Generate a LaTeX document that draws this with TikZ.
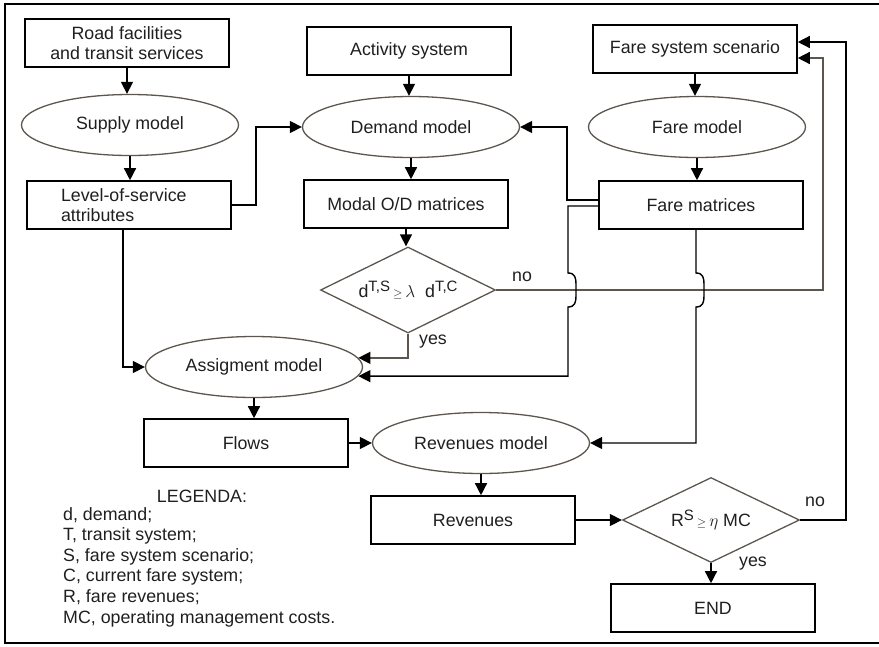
\documentclass[tikz,border=0pt]{standalone}
\usepackage{fontspec}
\setmainfont{Liberation Sans}
\usetikzlibrary{arrows.meta,shapes.geometric}

\definecolor{outlinegray}{RGB}{92,86,78}

\begin{document}
\begin{tikzpicture}[x=1pt,y=-1pt,
  every node/.style={font=\fontsize{17.8}{20.6}\selectfont,text=black!88},
  box/.style={draw=black,line width=1.6pt,minimum width=204pt,minimum height=48pt,inner sep=0pt,align=center},
  model/.style={ellipse,draw=outlinegray,line width=1.3pt,minimum width=217pt,minimum height=61pt,inner sep=0pt},
  test/.style={diamond,aspect=2,draw=outlinegray,line width=1.3pt,inner sep=0pt},
  conn/.style={line width=1.4pt,-{Triangle[length=12pt,width=12pt,color=black]}},
  conngray/.style={conn,draw=outlinegray}]
\useasboundingbox (0,0) rectangle (879,646);
\draw[line width=1.5pt] (5,4) rectangle (890,643);

% left column
\node[box] (road) at (127,43) {Road facilities\\and transit services};
\node[model] (supply) at (130,125) {Supply model};
\node[box,align=left,text width=136pt] (los) at (129,205) {Level-of-service\\attributes};

% middle column
\node[box] (activity) at (409,51) {Activity system};
\node[model] (demand) at (411,127) {Demand model};
\node[box] (modal) at (406,204) {Modal O/D matrices};
\node[test,minimum width=175pt,minimum height=86pt] (dtest) at (408,290)
  {d\raisebox{.38em}{\fontsize{15}{15}\selectfont T,S}\,$\scriptstyle\geq$\,$\lambda$\ \ d\raisebox{.38em}{\fontsize{15}{15}\selectfont T,C}};

% right column
\node[box] (fscen) at (695,49) {Fare system scenario};
\node[model] (fmodel) at (697,127) {Fare model};
\node[box] (fmat) at (701,205) {Fare matrices};

% lower part
\node[model] (assign) at (254,367) {Assigment model};
\node[box] (flows) at (246,443) {Flows};
\node[model] (revmodel) at (481,443) {Revenues model};
\node[box] (revenues) at (473,520) {Revenues};
\node[test,minimum width=177pt,minimum height=85pt] (rtest) at (711,520)
  {R\raisebox{.38em}{\fontsize{15}{15}\selectfont S}\,$\scriptstyle\geq$\,$\eta$ MC};
\node[box] (endbox) at (713,608) {END};

\node (dno) at (522,277) {no};
\node (dyes) at (433,342) {yes};
\node (rno) at (815,502) {no};
\node (ryes) at (753,564) {yes};

\node (legtitle) at (202,496) {LEGENDA:};
\node[anchor=north west,align=left,inner sep=0pt] (legtext) at (63,507)
  {d, demand;\\T, transit system;\\S, fare system scenario;\\C, current fare system;\\R, fare revenues;\\MC, operating management costs.};

% connectors
\draw[conn] (road.south) -- (road.south |- supply.north);
\draw[conn] (supply.south) -- (supply.south |- los.north);
\draw[conn] (los.east) -- (256,205) |- (demand.west);
\draw[conn] ([xshift=-6pt]los.south) |- (assign.west);
\draw[conn] (activity.south) -- (activity.south |- demand.north);
\draw[conn] (demand.south) -- (demand.south |- modal.north);
\draw[conn] (modal.south) -- (modal.south |- dtest.north);
\draw[conngray] (dtest.south) |- (assign.5);
\draw[conngray] (dtest.east) -- (823,290) |- ([yshift=-9pt]fscen.east);
\draw[conn] (fscen.south) -- (fscen.south |- fmodel.north);
\draw[conn] (fmodel.south) -- (fmodel.south |- fmat.north);
\draw[conn] ([yshift=5pt]fmat.west) -- (567,200) |- (demand.east);
\draw[conn] ([yshift=-1pt]fmat.west) -- (568,206) -- (568,273)
  .. controls (575,273) and (576,278) .. (576,284) -- (576,296)
  .. controls (576,302) and (575,307) .. (568,307) |- (assign.-5);
\draw[conn] ([xshift=-5pt]fmat.south) -- (696,273)
  .. controls (703,273) and (704,278) .. (704,284) -- (704,296)
  .. controls (704,302) and (703,307) .. (696,307) |- (revmodel.east);
\draw[conn] (assign.south) -- (assign.south |- flows.north);
\draw[conn] (flows.east) -- (revmodel.west);
\draw[conn] (revmodel.south) -- (revmodel.south |- revenues.north);
\draw[conn] (revenues.east) -- (rtest.west);
\draw[conn] (rtest.south) -- (rtest.south |- endbox.north);
\draw[conn] (rtest.east) -- (846,520) |- ([yshift=7pt]fscen.east);
\end{tikzpicture}
\end{document}
